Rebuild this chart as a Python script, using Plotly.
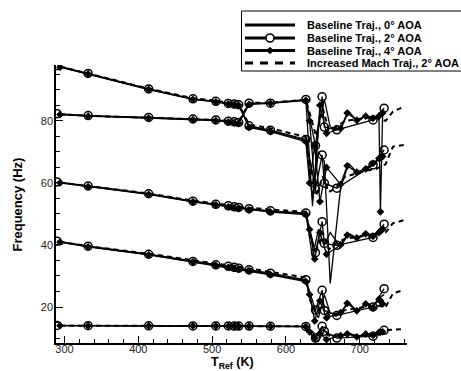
import plotly.graph_objects as go

# ---------------------------------------------------------------------------
# Reference temperature (K) at which each trajectory was sampled
# ---------------------------------------------------------------------------
T_AOA0 = [294, 332, 414, 474, 505, 522, 530, 536, 550, 579, 627,
          636, 644, 652, 660, 674, 685, 697, 709, 717, 728, 733]
T_AOA2 = [290, 332, 414, 474, 505, 522, 530, 536, 550, 579, 627,
          640, 649, 652, 669, 718, 733]
T_AOA4 = [294, 332, 414, 474, 505, 522, 530, 536, 550, 579, 627,
          632, 639, 646, 655, 674, 683, 696, 708, 718, 726, 728, 731]
T_MACH = [294, 332, 414, 474, 505, 522, 530, 536, 550, 579, 627,
          633, 641, 650, 658, 668, 680, 695, 710, 722, 735, 745, 760]

# ---------------------------------------------------------------------------
# Frequencies (Hz), five modes per trajectory
# ---------------------------------------------------------------------------
# Baseline trajectory, 0 deg AOA
F1_AOA0 = [14.0, 14.0, 13.9, 13.9, 13.9, 13.85, 13.85, 13.85, 13.8, 13.8, 13.7,
           10.5, 9.0, 12.5, 11.0, 10.4, 11.6, 10.5, 11.2, 10.8, 11.8, 12.3]
F2_AOA0 = [41.0, 39.5, 36.9, 34.6, 33.5, 33.0, 32.6, 32.3, 31.8, 30.6, 28.5,
           20.0, 16.5, 24.0, 18.0, 17.9, 21.6, 18.4, 21.6, 20.2, 23.2, 24.0]
F3_AOA0 = [60.1, 58.9, 56.4, 54.0, 53.0, 52.4, 52.1, 51.9, 51.5, 50.8, 50.0,
           36.0, 45.0, 40.0, 44.0, 39.4, 43.7, 42.1, 44.2, 42.6, 44.8, 46.0]
F4_AOA0 = [82.1, 81.6, 81.0, 80.5, 80.2, 79.7, 79.5, 79.3, 85.5, 85.7, 86.7,
           52.5, 78.0, 87.0, 78.0, 77.1, 83.0, 79.8, 81.9, 80.3, 82.0, 83.5]
F5_AOA0 = [97.4, 95.2, 90.2, 87.0, 86.2, 85.5, 85.3, 85.1, 78.2, 76.8, 73.7,
           55.0, 70.0, 67.0, 27.6, 58.3, 66.3, 63.1, 65.0, 65.8, 68.0, 69.5]

# Baseline trajectory, 2 deg AOA
F1_AOA2 = [14.05, 14.0, 13.95, 13.9, 13.9, 13.9, 13.85, 13.85, 13.85, 13.8, 13.75,
           10.0, 13.8, 12.2, 10.0, 10.6, 12.5]
F2_AOA2 = [41.2, 39.6, 37.0, 34.7, 33.6, 33.1, 32.8, 32.5, 32.0, 30.9, 28.8,
           19.0, 25.4, 18.9, 17.3, 20.0, 25.9]
F3_AOA2 = [60.3, 59.0, 56.5, 54.1, 53.1, 52.6, 52.3, 52.1, 51.7, 51.0, 50.3,
           37.5, 47.5, 40.5, 39.9, 42.4, 46.7]
F4_AOA2 = [82.3, 81.7, 81.1, 80.6, 80.3, 79.9, 79.7, 79.5, 85.7, 85.7, 86.9,
           72.0, 87.8, 78.0, 77.1, 80.3, 84.1]
F5_AOA2 = [97.8, 95.3, 90.3, 87.1, 86.3, 85.6, 85.4, 85.2, 78.4, 77.0, 74.0,
           58.0, 69.0, 59.9, 58.3, 65.8, 70.6]

# Baseline trajectory, 4 deg AOA
F1_AOA4 = [14.0, 13.95, 13.9, 13.9, 13.85, 13.85, 13.85, 13.8, 13.8, 13.75, 13.65,
           12.0, 10.0, 11.5, 9.5, 10.8, 11.3, 10.4, 11.3, 10.9, 11.8, 11.9, 12.0]
F2_AOA4 = [40.9, 39.4, 36.8, 34.5, 33.4, 32.8, 32.5, 32.2, 31.6, 30.4, 28.2,
           24.0, 15.5, 22.0, 16.5, 18.2, 21.2, 18.8, 21.0, 19.8, 22.5, 22.0, 21.0]
F3_AOA4 = [60.0, 58.8, 56.3, 53.9, 52.9, 52.3, 52.0, 51.8, 51.3, 50.6, 49.8,
           45.0, 35.5, 44.0, 37.0, 40.0, 43.2, 42.3, 43.6, 42.8, 44.0, 44.5, 45.0]
F4_AOA4 = [82.0, 81.5, 80.9, 80.4, 80.1, 79.6, 79.4, 79.2, 85.3, 85.6, 86.6,
           80.0, 60.0, 85.0, 76.0, 77.5, 82.5, 80.2, 81.5, 80.8, 81.5, 50.7, 82.5]
F5_AOA4 = [97.3, 95.1, 90.1, 86.9, 86.1, 85.4, 85.2, 85.0, 77.9, 76.5, 73.3,
           60.0, 72.0, 54.0, 65.0, 59.5, 65.5, 63.5, 64.5, 66.3, 67.9, 68.2, 68.5]

# Increased Mach trajectory, 2 deg AOA
F1_MACH = [14.0, 13.95, 13.9, 13.9, 13.85, 13.85, 13.85, 13.85, 13.8, 13.8, 13.8,
           12.5, 11.0, 12.0, 10.8, 10.5, 11.0, 10.8, 11.0, 11.2, 12.6, 12.8, 12.9]
F2_MACH = [41.0, 39.6, 37.2, 35.0, 34.0, 33.5, 33.2, 32.9, 32.5, 31.5, 29.5,
           22.0, 18.0, 21.0, 17.5, 17.2, 19.0, 19.5, 20.0, 20.5, 20.0, 24.4, 25.5]
F3_MACH = [60.1, 59.0, 56.6, 54.3, 53.4, 52.9, 52.6, 52.4, 52.0, 51.4, 50.7,
           42.0, 38.0, 44.0, 38.5, 40.5, 42.0, 42.5, 43.0, 43.5, 44.0, 47.0, 48.0]
F4_MACH = [82.1, 81.6, 81.0, 80.6, 80.3, 80.0, 79.8, 79.6, 85.8, 85.9, 86.8,
           82.0, 75.0, 84.0, 77.0, 78.0, 80.0, 80.5, 81.0, 81.0, 80.0, 83.0, 84.6]
F5_MACH = [97.5, 95.3, 90.4, 87.3, 86.5, 85.8, 85.6, 85.4, 78.8, 77.6, 74.8,
           66.0, 56.0, 62.0, 57.0, 58.5, 62.0, 63.0, 64.0, 64.5, 66.0, 71.7, 72.2]

LEGEND_NAMES = ["Baseline Traj., 0\u00b0 AOA",
                "Baseline Traj., 2\u00b0 AOA",
                "Baseline Traj., 4\u00b0 AOA",
                "Increased Mach Traj., 2\u00b0 AOA"]

X_RANGE = [288.5, 764]
Y_RANGE = [8.4, 98]

# ---------------------------------------------------------------------------
FONT = "Liberation Sans, Arial, Helvetica, sans-serif"
W, H = 461, 371
ML, MR, MT, MB = 56, 54, 65, 28
PL, PR, PT, PB = ML, W - MR, MT, H - MB


def px_x(x):
    return (x - PL) / (PR - PL)


def px_y(y):
    return (PB - y) / (PB - PT)


fig = go.Figure()

series = [
    ("mach", T_MACH, [F1_MACH, F2_MACH, F3_MACH, F4_MACH, F5_MACH]),
    ("aoa0", T_AOA0, [F1_AOA0, F2_AOA0, F3_AOA0, F4_AOA0, F5_AOA0]),
    ("aoa2", T_AOA2, [F1_AOA2, F2_AOA2, F3_AOA2, F4_AOA2, F5_AOA2]),
    ("aoa4", T_AOA4, [F1_AOA4, F2_AOA4, F3_AOA4, F4_AOA4, F5_AOA4]),
]

for key, temps, modes in series:
    for freqs in modes:
        if key == "mach":
            fig.add_trace(go.Scatter(
                x=temps, y=freqs, mode="lines",
                line=dict(color="black", width=2.0, dash="5px,4px"),
                showlegend=False, hoverinfo="skip"))
        elif key == "aoa0":
            fig.add_trace(go.Scatter(
                x=temps, y=freqs, mode="lines",
                line=dict(color="black", width=1.3),
                showlegend=False, hoverinfo="skip"))
        elif key == "aoa2":
            fig.add_trace(go.Scatter(
                x=temps, y=freqs, mode="lines+markers",
                line=dict(color="black", width=1.3),
                marker=dict(symbol="circle-open", size=8, color="black",
                            line=dict(width=1.5, color="black")),
                showlegend=False, hoverinfo="skip"))
        else:
            fig.add_trace(go.Scatter(
                x=temps, y=freqs, mode="lines+markers",
                line=dict(color="black", width=1.3),
                marker=dict(symbol="diamond", size=6, color="black"),
                showlegend=False, hoverinfo="skip"))

# ---------------------------------------------------------------------------
# Legend box drawn as layout decorations
# ---------------------------------------------------------------------------
shapes = []
annotations = []

box_l, box_t, box_r, box_b = 241.5, 11, 470, 71
shapes.append(dict(type="rect", xref="paper", yref="paper",
                   x0=px_x(box_l), x1=px_x(box_r), y0=px_y(box_b), y1=px_y(box_t),
                   line=dict(color="black", width=1), fillcolor="white", layer="above"))

rows = [25, 38, 50.5, 63]
sx0, sx1, scx = 245, 295, 270
for i, (name, ry) in enumerate(zip(LEGEND_NAMES, rows)):
    dash = "8px,7px" if i == 3 else "solid"
    shapes.append(dict(type="line", xref="paper", yref="paper",
                       x0=px_x(sx0), x1=px_x(sx1), y0=px_y(ry), y1=px_y(ry),
                       line=dict(color="black", width=3, dash=dash), layer="above"))
    if i == 1:
        r = 4
        shapes.append(dict(type="circle", xref="paper", yref="paper",
                           x0=px_x(scx - r), x1=px_x(scx + r),
                           y0=px_y(ry + r), y1=px_y(ry - r),
                           line=dict(color="black", width=1.6), fillcolor="white",
                           layer="above"))
    if i == 2:
        d = 3.2
        path = "M{},{} L{},{} L{},{} L{},{} Z".format(
            px_x(scx - d), px_y(ry), px_x(scx), px_y(ry - d),
            px_x(scx + d), px_y(ry), px_x(scx), px_y(ry + d))
        shapes.append(dict(type="path", xref="paper", yref="paper", path=path,
                           line=dict(color="black", width=1), fillcolor="black",
                           layer="above"))
    annotations.append(dict(text="<b>" + name + "</b>", xref="paper", yref="paper",
                            x=px_x(305), y=px_y(ry), xanchor="left", yanchor="middle",
                            showarrow=False, font=dict(family=FONT, size=11, color="black")))

# Axis titles
annotations.append(dict(text="<b>T<sub>Ref</sub> (K)</b>", xref="paper", yref="paper",
                        x=px_x(232), y=px_y(363), xanchor="center", yanchor="middle",
                        showarrow=False, font=dict(family=FONT, size=12.5, color="black")))
annotations.append(dict(text="<b>Frequency (Hz)</b>", xref="paper", yref="paper",
                        x=px_x(17), y=px_y(204.5), xanchor="center", yanchor="middle",
                        textangle=-90, showarrow=False,
                        font=dict(family=FONT, size=13, color="black")))

axis_common = dict(showline=True, linecolor="black", linewidth=1.5, mirror=False,
                   showgrid=False, zeroline=False, ticks="inside", tickcolor="black",
                   tickwidth=1.2, ticklen=7,
                   tickfont=dict(family=FONT, size=11, color="#222"))

fig.update_layout(
    width=W, height=H,
    margin=dict(l=ML, r=MR, t=MT, b=MB, autoexpand=False),
    paper_bgcolor="white", plot_bgcolor="white",
    showlegend=False,
    xaxis=dict(range=X_RANGE, tick0=300, dtick=100, ticklabelstandoff=-5,
               minor=dict(dtick=20, tick0=300, ticks="inside", ticklen=4,
                          tickwidth=1, tickcolor="black"),
               **axis_common),
    yaxis=dict(range=Y_RANGE, tick0=0, dtick=20, ticklabelstandoff=-1,
               minor=dict(dtick=5, tick0=0, ticks="inside", ticklen=4,
                          tickwidth=1, tickcolor="black"),
               **axis_common),
    shapes=shapes,
    annotations=annotations,
)

fig.write_html("out.html")
